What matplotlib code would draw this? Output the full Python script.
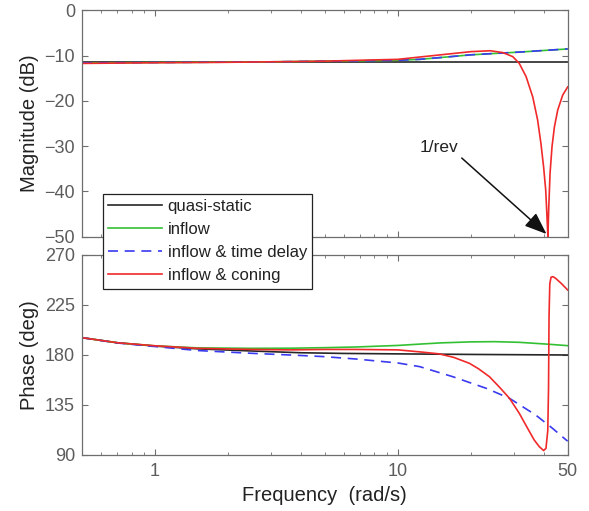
import matplotlib
matplotlib.use("Agg")
import matplotlib.pyplot as plt
from matplotlib.ticker import FixedLocator, NullFormatter, LogLocator

plt.rcParams["font.family"] = ["Liberation Sans", "DejaVu Sans"]

# ── Data ─────────────────────────────────────────────────────────────────────
series_labels = ["quasi-static", "inflow", "inflow & time delay", "inflow & coning"]

# quasi-static
freq_qs = [0.5, 0.7, 1, 1.5, 2.5, 4, 6, 10, 20, 50]
mag_qs = [-11.4, -11.4, -11.4, -11.4, -11.4, -11.4, -11.4, -11.4, -11.4, -11.4]
phase_qs = [195.6, 191.0, 188.0, 185.5, 183.6, 182.0, 181.4, 181.0, 180.5, 180.0]

# inflow (magnitude shared with inflow & time delay)
freq_in = [0.5, 0.7, 1, 1.5, 2.5, 3.6, 5, 6.7, 10, 12.3, 15, 20, 25, 31.6, 41, 50]
mag_in = [-11.6, -11.55, -11.5, -11.45, -11.4, -11.3, -11.2, -11.15, -11.0, -10.8,
          -10.4, -9.8, -9.5, -9.2, -8.8, -8.5]
phase_in = [195.6, 191.0, 188.2, 186.4, 186.0, 186.1, 186.6, 187.2, 188.6, 189.8,
            190.9, 191.8, 192.0, 191.4, 189.8, 188.4]

# inflow & time delay
freq_ph_td = [0.5, 0.7, 1, 1.5, 2.5, 3.6, 4.9, 6.7, 10, 12.3, 16.8, 23.1, 28.8,
              36.9, 43.3, 49.3, 50]
phase_td = [195.6, 190.8, 187.6, 184.0, 181.5, 180.0, 178.6, 176.4, 172.8, 169.5,
            160.5, 150.0, 141.0, 126.0, 114.0, 103.5, 102.5]

# inflow & coning
freq_mag_co = [0.5, 1, 2, 3.6, 5, 7, 10, 15, 20, 24, 27, 29.7, 31.6, 33.7, 35.9,
               37.6, 38.8, 39.8, 40.6, 41.1, 41.45, 41.8, 42.3, 43.1, 44.1, 45.5,
               47.7, 50]
mag_co = [-11.7, -11.55, -11.45, -11.3, -11.2, -11.0, -10.8, -9.8, -9.1, -8.9,
          -9.3, -10.2, -11.7, -14.6, -19.1, -24.2, -29.4, -34.6, -39.7, -45.6,
          -50.0, -43.4, -36.0, -30.1, -25.7, -22.0, -18.7, -16.9]
freq_ph_co = [0.5, 0.7, 1, 1.5, 2.5, 3.6, 5, 6.7, 10, 12.3, 14.8, 17, 19.7, 21.5,
              23.8, 26.2, 28.8, 31.6, 34.2, 36.4, 38.2, 39.8, 40.7, 41.4, 41.7,
              41.9, 42.2, 42.7, 43.5, 44.6, 47, 50]
phase_co = [195.6, 191.0, 188.3, 186.0, 185.0, 184.6, 185.0, 185.0, 184.6, 182.8,
            181.0, 177.8, 172.5, 167.5, 160.5, 151.0, 141.0, 127.5, 114.0, 103.5,
            97.5, 94.0, 96.0, 112.0, 150.0, 215.0, 244.0, 250.0, 250.5, 249.0,
            244.5, 238.5]

mag_ticks = [-50, -40, -30, -20, -10, 0]
phase_ticks = [90, 135, 180, 225, 270]
freq_ticks = [1, 10, 50]
freq_ticklabels = ["1", "10", "50"]

# ── Styling ──────────────────────────────────────────────────────────────────
C_QS = "#262626"
C_IN = "#33c133"
C_TD = "#3a3af0"
C_CO = "#f02a2a"
LW = 1.2
TICK_COLOR = "#5c5c5c"
SPINE_COLOR = "#6e6e6e"

fig = plt.figure(figsize=(5.89, 5.11), dpi=100)
ax1 = fig.add_axes([0.1392, 0.5368, 0.8246, 0.4427])
ax2 = fig.add_axes([0.1392, 0.1096, 0.8246, 0.3914])

# magnitude
ax1.plot(freq_qs, mag_qs, color=C_QS, lw=LW)
ax1.plot(freq_in, mag_in, color=C_IN, lw=LW)
ax1.plot(freq_in, mag_in, color=C_TD, lw=LW, dashes=(6, 4))
ax1.plot(freq_mag_co, mag_co, color=C_CO, lw=LW)

# phase
h_qs, = ax2.plot(freq_qs, phase_qs, color=C_QS, lw=LW)
h_in, = ax2.plot(freq_in, phase_in, color=C_IN, lw=LW)
h_td, = ax2.plot(freq_ph_td, phase_td, color=C_TD, lw=LW, dashes=(6, 4))
h_co, = ax2.plot(freq_ph_co, phase_co, color=C_CO, lw=LW)

for ax in (ax1, ax2):
    ax.set_xscale("log")
    ax.set_xlim(0.5, 50)
    ax.xaxis.set_minor_locator(LogLocator(base=10, subs=range(2, 10)))
    ax.xaxis.set_minor_formatter(NullFormatter())
    ax.tick_params(which="both", direction="in", top=True, right=True,
                   colors=SPINE_COLOR, labelcolor=TICK_COLOR, labelsize=13)
    ax.tick_params(which="major", length=4, width=0.8)
    ax.tick_params(which="minor", length=2.5, width=0.6)
    ax.tick_params(axis="y", pad=5)
    ax.tick_params(axis="x", pad=6)
    for sp in ax.spines.values():
        sp.set_color(SPINE_COLOR)
        sp.set_linewidth(0.9)

ax1.set_ylim(-50, 0)
ax1.yaxis.set_major_locator(FixedLocator(mag_ticks))
ax1.xaxis.set_major_locator(FixedLocator([1, 10]))
ax1.xaxis.set_major_formatter(NullFormatter())
ax1.set_ylabel("Magnitude (dB)", fontsize=14.5, color="#222222", labelpad=4)

ax2.set_ylim(90, 270)
ax2.yaxis.set_major_locator(FixedLocator(phase_ticks))
ax2.xaxis.set_major_locator(FixedLocator(freq_ticks))
ax2.set_xticklabels(freq_ticklabels)
ax2.set_ylabel("Phase (deg)", fontsize=14.5, color="#222222", labelpad=4)
ax2.set_xlabel("Frequency  (rad/s)", fontsize=14.5, color="#222222", labelpad=4)
fig.align_ylabels([ax1, ax2])

ax1.annotate("1/rev", xy=(40.9, -49.4), xytext=(14.7, -30.2),
             ha="center", va="center", fontsize=12.5, color="#222222",
             arrowprops=dict(arrowstyle="-|>,head_length=0.9,head_width=0.35",
                             mutation_scale=15, color="#111111", lw=1.1,
                             relpos=(1.0, 0.0), shrinkA=1, shrinkB=0))

leg = fig.legend([h_qs, h_in, h_td, h_co], series_labels,
                 loc="upper left", bbox_to_anchor=(0.1749, 0.6204),
                 bbox_transform=fig.transFigure, borderaxespad=0,
                 fontsize=12, frameon=True, fancybox=False, framealpha=1,
                 edgecolor="#222222", handlelength=3.2, handletextpad=0.35,
                 labelspacing=0.48, borderpad=0.32)
leg.get_frame().set_linewidth(0.9)
for t in leg.get_texts():
    t.set_color("#222222")

fig.savefig("out.png", dpi=100)
